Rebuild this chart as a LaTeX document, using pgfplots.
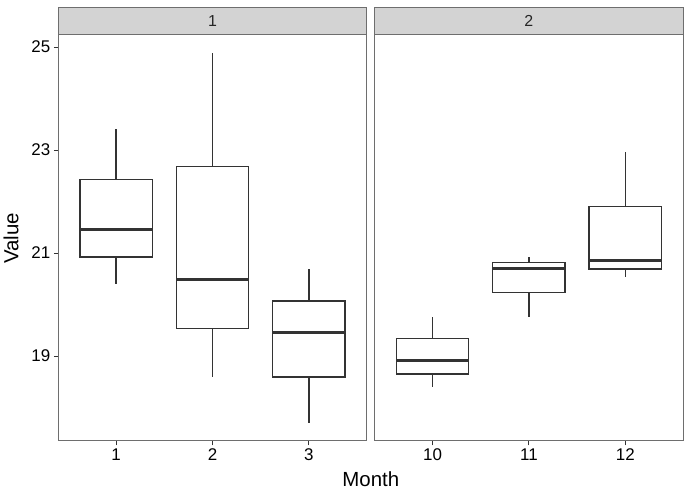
\documentclass[border=0pt]{standalone}
\usepackage{pgfplots}
\pgfplotsset{compat=1.18}
\usepgfplotslibrary{statistics}
\usepackage{fontspec}
\setmainfont{Liberation Sans}
\definecolor{boxc}{HTML}{333333}
\definecolor{bord}{HTML}{6E6E6E}
\definecolor{stripc}{HTML}{D3D3D3}
\pgfplotsset{
  panel/.style={
    anchor=south west, scale only axis,
    width=308.4bp, height=406.7bp,
    ymin=17.35, ymax=25.247,
    axis line style={bord, line width=1bp},
    tick align=outside, major tick length=4.5bp,
    tick style={boxc, line width=0.9bp},
    tick pos=left,
    /pgf/number format/assume math mode=true,
    tick label style={font=\fontsize{17}{17}\selectfont, text=black},
    boxplot/draw direction=y,
    boxplot/box extend=0.75,
    boxplot/whisker extend=0,
    boxplot/draw/median/.code={%
      \draw[line width=2.7bp, boxc] (boxplot box cs:\pgfplotsboxplotvalue{median},0) -- (boxplot box cs:\pgfplotsboxplotvalue{median},1);},
  },
  bx/.style={draw=boxc, line width=1.3bp, fill=white, solid},
}
\begin{document}
\begin{tikzpicture}
\useasboundingbox (0,0) rectangle (691bp,496bp);
\begin{axis}[panel, name=p1, at={(58.3bp,55bp)},
  xmin=0.4, xmax=3.6, xtick={1,2,3}, ytick={19,21,23,25}]
\addplot+[bx, boxplot prepared={draw position=1, lower whisker=20.39, lower quartile=20.92, median=21.46, upper quartile=22.43, upper whisker=23.40}] coordinates {};
\addplot+[bx, boxplot prepared={draw position=2, lower whisker=18.59, lower quartile=19.53, median=20.48, upper quartile=22.68, upper whisker=24.88}] coordinates {};
\addplot+[bx, boxplot prepared={draw position=3, lower whisker=17.70, lower quartile=18.59, median=19.45, upper quartile=20.07, upper whisker=20.68}] coordinates {};
\end{axis}
\begin{axis}[panel, name=p2, at={(374.7bp,55bp)},
  xmin=9.4, xmax=12.6, xtick={10,11,12}, ytick=\empty]
\addplot+[bx, boxplot prepared={draw position=10, lower whisker=18.40, lower quartile=18.65, median=18.91, upper quartile=19.34, upper whisker=19.76}] coordinates {};
\addplot+[bx, boxplot prepared={draw position=11, lower whisker=19.76, lower quartile=20.23, median=20.70, upper quartile=20.81, upper whisker=20.92}] coordinates {};
\addplot+[bx, boxplot prepared={draw position=12, lower whisker=20.54, lower quartile=20.69, median=20.85, upper quartile=21.91, upper whisker=22.97}] coordinates {};
\end{axis}
\foreach \p/\t in {p1/1,p2/2}{
  \draw[bord, line width=1bp, fill=stripc] (\p.north west) rectangle ([yshift=27bp]\p.north east);
  \node[font=\fontsize{16}{16}\selectfont, text=black!85] at ([yshift=13.5bp]\p.north) {\t};
}
\node[font=\fontsize{20.5}{20.5}\selectfont] at (370.8bp,17bp) {Month};
\node[font=\fontsize{20.5}{20.5}\selectfont, rotate=90] at (11bp,257.5bp) {Value};
\end{tikzpicture}
\end{document}
